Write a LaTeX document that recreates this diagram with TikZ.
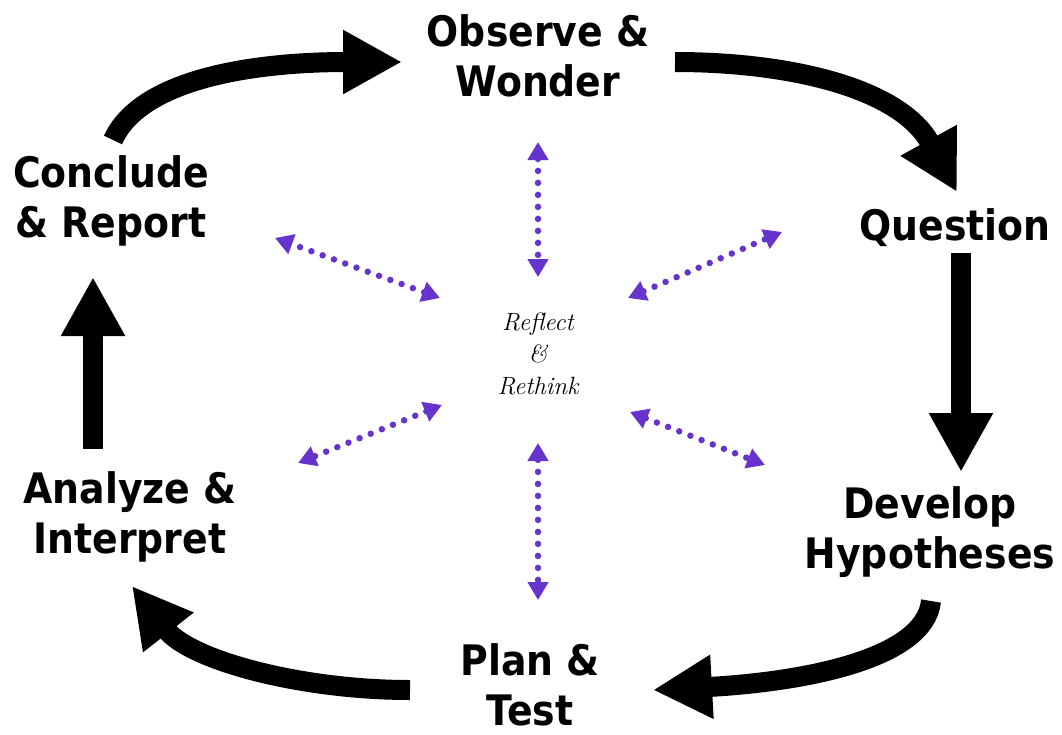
\documentclass[tikz,border=0pt]{standalone}
\usepackage{fontspec}
\usetikzlibrary{arrows.meta}
\newfontfamily\lblfont{DejaVu Sans Condensed Bold}
\definecolor{dotpurple}{RGB}{102,51,204}
\tikzset{
  stage/.style={align=center, inner sep=0pt, font=\lblfont\fontsize{42}{50}\selectfont},
  bigarrow/.style={line width=20pt, -{Triangle[length=59pt,width=60pt]}},
  dotarrow/.style={dotpurple, line width=6.5pt, line cap=round, dash pattern=on 0pt off 12pt,
    {Triangle[length=18pt,width=20pt]}-{Triangle[length=18pt,width=20pt]}},
  centertext/.style={align=center, inner sep=0pt, font=\itshape\fontsize{25}{32}\selectfont}
}
\begin{document}
\begin{tikzpicture}[x=1pt,y=-1pt]
\useasboundingbox[fill=white] (0,0) rectangle (1062,734);
% stage labels
\node[stage] (obs) at (538,56) {Observe \&\\Wonder};
\node[stage] (que) at (955,228) {Question};
\node[stage] (dev) at (930,532) {Develop\\Hypotheses};
\node[stage] (plan) at (530,685) {Plan \&\\Test};
\node[stage] (ana) at (130,517) {Analyze \&\\Interpret};
\node[stage] (con) at (111,201) {Conclude\\\& Report};
\node[centertext] (ref) at (538,354) {Reflect\\\&\\Rethink};
% big cycle arrows
\coordinate (a1s) at (113,140); \coordinate (a1e) at (402,62);
\coordinate (a2s) at (675,62);  \coordinate (a2e) at (957,192);
\coordinate (a3s) at (961,253); \coordinate (a3e) at (961,472);
\coordinate (a4s) at (931,601); \coordinate (a4e) at (653,690);
\coordinate (a5s) at (410,690); \coordinate (a5e) at (132,586);
\coordinate (a6s) at (93,449);  \coordinate (a6e) at (93,277);
\draw[bigarrow] (a1s) .. controls (140,80) and (250,62) .. (a1e);
\draw[bigarrow] (a2s) .. controls (790,62) and (900,88) .. (a2e);
\draw[bigarrow] (a3s) -- (a3e);
\draw[bigarrow] (a4s) .. controls (925,660) and (800,682) .. (a4e);
\draw[bigarrow] (a5s) .. controls (300,690) and (190,660) .. (a5e);
\draw[bigarrow] (a6s) -- (a6e);
% dotted reflect arrows
\coordinate (d1a) at (538,142); \coordinate (d1b) at (538,277);
\coordinate (d2a) at (628,298); \coordinate (d2b) at (782,232);
\coordinate (d3a) at (630,412); \coordinate (d3b) at (765,465);
\coordinate (d4a) at (538,443); \coordinate (d4b) at (538,600);
\coordinate (d5a) at (442,405); \coordinate (d5b) at (298,463);
\coordinate (d6a) at (440,298); \coordinate (d6b) at (275,238);
\draw[dotarrow] (d1a) -- (d1b);
\draw[dotarrow] (d2a) -- (d2b);
\draw[dotarrow] (d3a) -- (d3b);
\draw[dotarrow] (d4a) -- (d4b);
\draw[dotarrow] (d5a) -- (d5b);
\draw[dotarrow] (d6a) -- (d6b);
\end{tikzpicture}
\end{document}
